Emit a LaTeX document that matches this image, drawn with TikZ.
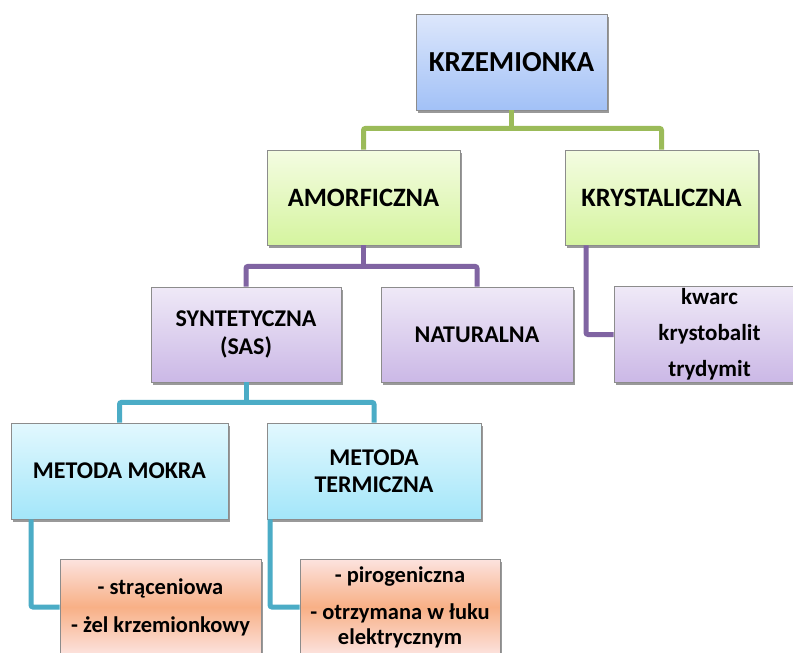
\documentclass[tikz,border=0pt]{standalone}
\usepackage{fontspec}
\setmainfont{Carlito}[BoldFont={Carlito Bold}]
\usetikzlibrary{shadows}

\definecolor{blueA}{HTML}{DDE7FB}
\definecolor{blueB}{HTML}{A2C1F7}
\definecolor{greenA}{HTML}{F4FCE2}
\definecolor{greenB}{HTML}{D5F49F}
\definecolor{purpA}{HTML}{EFE9F7}
\definecolor{purpB}{HTML}{CBB8E6}
\definecolor{cyanA}{HTML}{E2F8FE}
\definecolor{cyanB}{HTML}{A3E6F9}
\definecolor{orA}{HTML}{FCE3DF}
\definecolor{orB}{HTML}{F8B086}
\definecolor{boxgray}{HTML}{8C8C8C}
\definecolor{lgreen}{HTML}{9BBB59}
\definecolor{lpurp}{HTML}{8064A2}
\definecolor{lteal}{HTML}{4BACC6}

\tikzstyle{box} = [draw=boxgray, line width=0.8pt, inner sep=2pt, align=center, drop shadow={shadow xshift=2pt, shadow yshift=-2.5pt, opacity=0.4, fill=black}]
\tikzstyle{bluebox} = [box, top color=blueA, bottom color=blueB]
\tikzstyle{greenbox} = [box, top color=greenA, bottom color=greenB]
\tikzstyle{purpbox} = [box, top color=purpA, bottom color=purpB]
\tikzstyle{cyanbox} = [box, top color=cyanA, bottom color=cyanB]
\tikzstyle{orbox} = [box, top color=orA, bottom color=orA, middle color=orB]
\tikzstyle{link} = [line width=5pt, rounded corners=2pt]

\begin{document}
\begin{tikzpicture}[x=1pt, y=-1pt]
		\fill [white] (0, 0) rectangle (793, 653);
		\useasboundingbox (0, 0) rectangle (793, 653);

		\node [bluebox, minimum width=191pt, minimum height=96pt, font=\bfseries\fontsize{29}{35}\selectfont] at (511.5, 62) (krz) {KRZEMIONKA};
		\node [greenbox, minimum width=193pt, minimum height=95pt, font=\bfseries\fontsize{26.5}{32}\selectfont] at (363.5, 197.5) (amo) {AMORFICZNA};
		\node [greenbox, minimum width=193pt, minimum height=95pt, font=\bfseries\fontsize{26.5}{32}\selectfont] at (661.5, 197.5) (kry) {KRYSTALICZNA};
		\node [purpbox, minimum width=190pt, minimum height=95pt, font=\bfseries\fontsize{24}{28}\selectfont] at (246, 334.5) (syn) {SYNTETYCZNA\\(SAS)};
		\node [purpbox, minimum width=192pt, minimum height=95pt, font=\bfseries\fontsize{24}{28}\selectfont] at (477, 334.5) (nat) {NATURALNA};
		\node [purpbox, minimum width=191pt, minimum height=95pt, font=\bfseries\fontsize{23}{36}\selectfont] at (709.5, 334.5) (kwa) {kwarc\\krystobalit\\trydymit};
		\node [cyanbox, minimum width=217pt, minimum height=96pt, font=\bfseries\fontsize{24}{28}\selectfont] at (119.5, 471) (mok) {METODA MOKRA};
		\node [cyanbox, minimum width=214pt, minimum height=96pt, font=\bfseries\fontsize{24}{27}\selectfont] at (374, 471) (ter) {METODA\\TERMICZNA};
		\node [orbox, minimum width=201pt, minimum height=96pt, font=\bfseries\fontsize{22.5}{25}\selectfont] at (160.5, 607) (str) {- strąceniowa\\[13pt]- żel krzemionkowy};
		\node [orbox, minimum width=200pt, minimum height=96pt, font=\bfseries\fontsize{22.5}{25}\selectfont] at (400, 607) (pir) {- pirogeniczna\\[12pt]- otrzymana w łuku\\elektrycznym};

		% green level
		\draw [link, lgreen] (krz.south) -- ++(0, 18) coordinate (gmid);
		\draw [link, lgreen] (amo.north) |- (gmid) -| (kry.north);
		% purple level
		\draw [link, lpurp] (amo.south) -- ++(0, 21) coordinate (pmid);
		\draw [link, lpurp] (syn.north) |- (pmid) -| (nat.north);
		\draw [link, lpurp] ([xshift=-75.5pt]kry.south) |- (kwa.west);
		% teal level
		\draw [link, lteal] (syn.south) -- ++(0, 20) coordinate (tmid);
		\draw [link, lteal] (mok.north) |- (tmid) -| (ter.north);
		\draw [link, lteal] ([xshift=-88.5pt]mok.south) |- (str.west);
		\draw [link, lteal] ([xshift=-104pt]ter.south) |- (pir.west);
	\end{tikzpicture}
\end{document}
